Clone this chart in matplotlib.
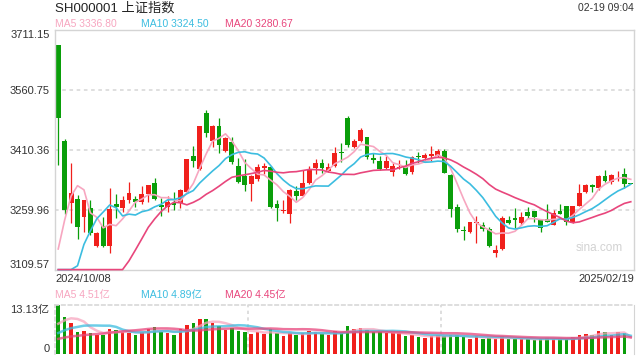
# -*- coding: utf-8 -*-

'''
SH000001 daily K-line with moving averages and volume
'''

import numpy as np
import matplotlib
matplotlib.use('Agg')
import matplotlib.pyplot as plt

plt.rcParams['font.family'] = ['Liberation Sans', 'Noto Sans CJK SC']

'''
data (read from the chart)
'''

title = 'SH000001 上证指数'
stamp = '02-19 09:04'
date_labels = ['2024/10/08', '2025/02/19']
price_ticks = [3109.57, 3259.96, 3410.36, 3560.75, 3711.15]
vol_max = 13.13
ma_labels = ['MA5 3336.80', 'MA10 3324.50', 'MA20 3280.67']
vol_ma_labels = ['MA5 4.51亿', 'MA10 4.89亿', 'MA20 4.45亿']

opens = [3674.40, 3433.0, 3278.0, 3287.0, 3243.0, 3264.0, 3170.0, 3220.0, 3169.0, 3276.0,
         3266.0, 3286.0, 3288.0, 3279.0, 3300.0, 3328.0, 3272.0, 3268.0, 3278.0, 3277.0,
         3306.0, 3396.0, 3362.0, 3503.0, 3433.0, 3471.0, 3409.0, 3431.0, 3370.0, 3346.0,
         3326.0, 3338.0, 3366.0, 3367.0, 3275.0, 3257.0, 3251.0, 3307.0, 3296.0, 3327.0,
         3366.0, 3378.0, 3357.0, 3370.0, 3403.0, 3491.0, 3417.0, 3434.0, 3442.0, 3390.0,
         3383.0, 3364.0, 3356.0, 3364.0, 3367.0, 3354.0, 3394.0, 3390.0, 3396.0, 3396.0,
         3408.0, 3348.0, 3267.0, 3211.0, 3204.0, 3228.0, 3222.0, 3212.0, 3152.0, 3162.0,
         3236.0, 3240.0, 3227.0, 3255.0, 3257.0, 3236.0, 3237.0, 3222.0, 3258.0, 3270.0,
         3228.0, 3270.0, 3306.0, 3323.0, 3314.0, 3345.0, 3329.0, 3354.0, 3350.0, 3324.49]
highs = [3674.40, 3438.0, 3379.0, 3298.0, 3286.0, 3285.0, 3204.0, 3242.0, 3314.0, 3300.0,
         3296.0, 3331.0, 3294.0, 3321.0, 3323.0, 3340.0, 3291.0, 3296.0, 3304.0, 3312.0,
         3389.0, 3420.0, 3471.0, 3511.0, 3472.0, 3490.0, 3442.0, 3442.0, 3391.0, 3387.0,
         3347.0, 3375.0, 3378.0, 3370.0, 3285.0, 3285.0, 3312.0, 3321.0, 3360.0, 3371.0,
         3387.0, 3389.0, 3377.0, 3419.0, 3427.0, 3496.0, 3438.0, 3465.0, 3443.0, 3402.0,
         3395.0, 3395.0, 3377.0, 3385.0, 3385.0, 3395.0, 3406.0, 3402.0, 3420.0, 3413.0,
         3413.0, 3351.0, 3275.0, 3220.0, 3231.0, 3246.0, 3230.0, 3218.0, 3172.0, 3245.0,
         3246.0, 3264.0, 3256.0, 3268.0, 3258.0, 3236.0, 3275.0, 3260.0, 3275.0, 3271.0,
         3271.0, 3325.0, 3325.0, 3324.0, 3347.0, 3360.0, 3349.0, 3357.0, 3366.0, 3324.49]
lows = [3371.91, 3250.0, 3228.0, 3188.0, 3206.0, 3198.0, 3167.0, 3168.0, 3153.0, 3241.0,
        3256.0, 3278.0, 3268.0, 3274.0, 3281.0, 3285.0, 3246.0, 3254.0, 3260.0, 3266.0,
        3302.0, 3369.0, 3360.0, 3444.0, 3419.0, 3403.0, 3405.0, 3375.0, 3328.0, 3308.0,
        3283.0, 3333.0, 3350.0, 3266.0, 3233.0, 3253.0, 3228.0, 3285.0, 3294.0, 3325.0,
        3349.0, 3353.0, 3354.0, 3368.0, 3381.0, 3417.0, 3416.0, 3431.0, 3389.0, 3377.0,
        3360.0, 3362.0, 3346.0, 3362.0, 3348.0, 3350.0, 3377.0, 3385.0, 3383.0, 3392.0,
        3352.0, 3242.0, 3206.0, 3186.0, 3202.0, 3176.0, 3207.0, 3168.0, 3141.0, 3160.0,
        3224.0, 3216.0, 3222.0, 3239.0, 3231.0, 3204.0, 3229.0, 3222.0, 3249.0, 3222.0,
        3227.0, 3269.0, 3302.0, 3306.0, 3311.0, 3331.0, 3324.0, 3333.0, 3316.0, 3324.49]
closes = [3489.78, 3258.86, 3301.93, 3217.74, 3284.32, 3201.29, 3202.95, 3169.38, 3261.56, 3268.11,
          3285.87, 3302.80, 3280.26, 3299.70, 3322.20, 3286.41, 3266.24, 3279.82, 3272.01, 3310.21,
          3386.99, 3383.81, 3470.07, 3452.30, 3470.66, 3421.97, 3439.28, 3379.84, 3330.73, 3323.85,
          3346.01, 3367.99, 3370.40, 3267.19, 3263.76, 3259.76, 3309.78, 3295.70, 3326.46, 3363.98,
          3378.81, 3364.65, 3368.86, 3404.08, 3402.53, 3422.66, 3432.49, 3461.50, 3391.88, 3386.33,
          3361.49, 3382.21, 3370.03, 3368.07, 3351.26, 3393.53, 3393.35, 3398.08, 3400.14, 3407.33,
          3351.76, 3262.56, 3211.43, 3206.92, 3229.64, 3230.17, 3211.39, 3168.52, 3160.76, 3240.94,
          3227.12, 3236.03, 3241.82, 3244.38, 3242.62, 3213.62, 3230.16, 3252.63, 3250.60, 3229.49,
          3270.66, 3303.67, 3322.17, 3318.06, 3346.39, 3332.48, 3346.72, 3355.83, 3324.49, 3324.49]
# volume, 亿
volumes = [13.13, 9.9, 8.3, 5.9, 6.2, 5.6, 5.2, 5.2, 6.8, 6.4,
           5.9, 5.6, 5.1, 6.0, 6.7, 7.2, 6.0, 5.5, 5.0, 6.7,
           7.8, 8.3, 9.5, 9.5, 8.2, 7.6, 6.5, 6.9, 6.2, 6.0,
           5.4, 5.8, 5.3, 6.6, 5.5, 4.9, 5.6, 5.1, 5.6, 6.1,
           5.9, 5.3, 5.1, 6.2, 5.8, 7.5, 6.6, 7.0, 6.3, 5.8,
           5.9, 5.5, 5.5, 5.5, 4.9, 5.0, 4.6, 4.3, 4.9, 5.1,
           4.7, 5.1, 5.0, 4.5, 4.1, 4.9, 4.0, 4.4, 3.9, 4.9,
           4.1, 4.0, 3.9, 4.0, 3.8, 4.0, 4.3, 4.0, 3.9, 4.1,
           4.6, 5.0, 5.3, 5.2, 6.25, 5.8, 5.2, 5.8, 5.75, 0.0]

# sessions before the first candle (only feed the moving averages)
prev_closes = [2811.04, 2802.98, 2784.28, 2788.31, 2765.81, 2736.49, 2744.19, 2721.80, 2717.12, 2704.09,
               2717.28, 2736.02, 2736.81, 2748.92, 2863.13, 2896.31, 3000.95, 3087.53, 3336.50]
prev_volumes = [2.6, 2.5, 2.5, 2.4, 2.5, 2.6, 2.4, 2.5, 2.4, 2.5,
                2.3, 2.8, 2.6, 2.9, 5.0, 5.3, 5.6, 6.8, 9.7]

'''
helpers
'''

def moving_average(prev, vals, n):
    s = np.array(prev + vals, dtype=float)
    ma = np.convolve(s, np.ones(n) / n, mode='valid')
    return ma[-len(vals):]

red = '#f0201c'
green = '#0a9e0a'
ma_colors = ['#f7a6c0', '#3cbde0', '#e8467c']
text_col = '#333333'
frame_col = '#d4d4d4'

n = len(closes)
x = np.arange(n)
o = np.array(opens)
c = np.array(closes)
cols = np.where(c > o, red, green)

'''
figure
'''

fig = plt.figure(figsize=(6.4, 3.6), dpi=100)
W, H = 640.0, 360.0

ax = fig.add_axes([55 / W, 90 / H, 579 / W, 240 / H])
axv = fig.add_axes([55 / W, 6 / H, 579 / W, 49 / H])

# price panel
y_lo, y_hi = price_ticks[0], price_ticks[-1]
for t in price_ticks[1:-1]:
    ax.axhline(t, color='#dcdcdc', lw=1.3, linestyle=(0, (2, 2)), zorder=0)

ax.vlines(x, lows, highs, colors=cols, lw=0.9, zorder=2)
body_lo = np.minimum(o, c)
body_h = np.maximum(np.abs(c - o), 2.0)
ax.bar(x, body_h, bottom=body_lo, width=0.76, color=cols, linewidth=0, zorder=2)

for k, per in enumerate([5, 10, 20]):
    ma = moving_average(prev_closes, closes, per)
    ma = np.clip(ma, y_lo + 1.0, None)  # lines below the range sit on the bottom edge
    ax.plot(x, ma, color=ma_colors[k], lw=1.2, zorder=3, clip_on=False)

ax.set_xlim(-0.5, n - 0.5)
ax.set_ylim(y_lo, y_hi)
ax.set_yticks(price_ticks)
ax.set_yticklabels(['%.2f' % t for t in price_ticks])
ax.set_xticks([-0.5, n - 0.5])
ax.set_xticklabels(date_labels)
ax.tick_params(length=0, labelsize=8, colors=text_col, pad=4)
ax.tick_params(axis='x', pad=3)
ylabs = ax.get_yticklabels()
ylabs[0].set_va('bottom')
ylabs[-1].set_va('top')
xlabs = ax.get_xticklabels()
xlabs[0].set_ha('left')
xlabs[-1].set_ha('right')
for s in ax.spines.values():
    s.set_color(frame_col)
    s.set_linewidth(1)

ax.text(0.98, 0.09, 'sina.com', transform=ax.transAxes, ha='right', va='center',
        fontsize=8.5, color='#d2d2d2')

# volume panel
axv.bar(x, volumes, width=0.55, color=cols, linewidth=0, zorder=2)
for k, per in enumerate([5, 10, 20]):
    vma = moving_average(prev_volumes, volumes, per)
    axv.plot(x, vma, color=ma_colors[k], lw=1.8, alpha=0.75, zorder=3)

axv.set_xlim(-0.5, n - 0.5)
axv.set_ylim(0, vol_max)
axv.set_yticks([0, vol_max])
axv.set_yticklabels(['0', '%.2f亿' % vol_max])
axv.set_xticks([])
axv.tick_params(length=0, labelsize=8, colors=text_col, pad=4)
vlabs = axv.get_yticklabels()
vlabs[0].set_va('bottom')
vlabs[-1].set_va('top')
for xv in [(n / 3.0) - 0.5, (2 * n / 3.0) - 0.5]:
    axv.axvline(xv, color='#d8d8d8', lw=1.2, linestyle=(0, (2, 2)), zorder=0)
for side in ['top', 'left']:
    axv.spines[side].set_color('#d8d8d8')
    axv.spines[side].set_linestyle((0, (2, 2)))
    axv.spines[side].set_linewidth(1.2)
axv.spines['right'].set_color(frame_col)
axv.spines['bottom'].set_visible(False)

# header texts
fig.text(55 / W, 1 - 8 / H, title, va='center', ha='left', fontsize=9.5, color='#222222')
fig.text(634 / W, 1 - 8 / H, stamp, va='center', ha='right', fontsize=7.5, color=text_col)
for k, xpos in enumerate([55, 141, 225]):
    fig.text(xpos / W, 1 - 24 / H, ma_labels[k], va='center', ha='left', fontsize=7.5, color=ma_colors[k])
    fig.text(xpos / W, 1 - 295 / H, vol_ma_labels[k], va='center', ha='left', fontsize=7.5, color=ma_colors[k])

plt.savefig('out.png', dpi=100)
